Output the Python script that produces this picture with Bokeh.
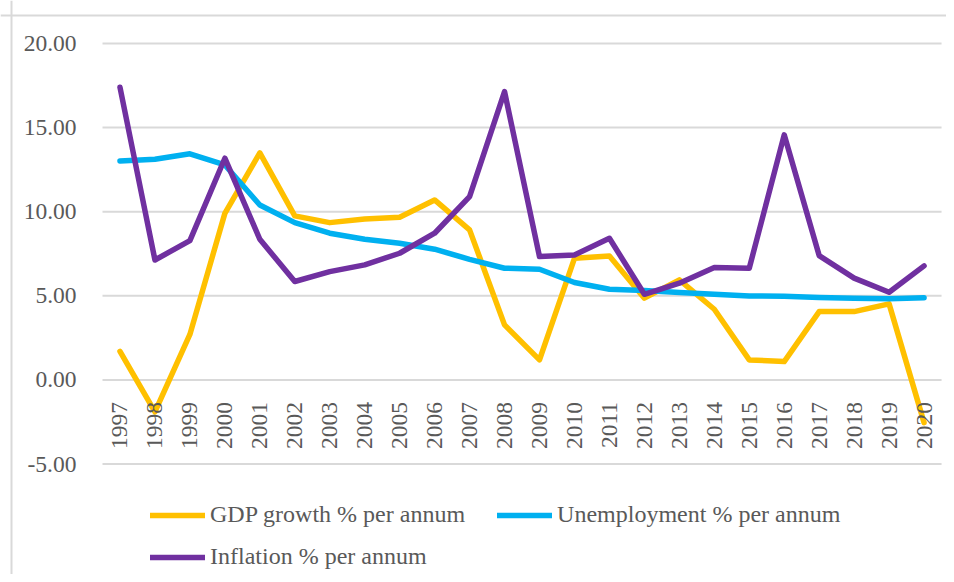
from bokeh.plotting import figure
from bokeh.models import (Range1d, FixedTicker, NumeralTickFormatter, Span,
                          Legend, LegendItem)
from bokeh.embed import file_html
from bokeh.resources import INLINE
import math

years = list(range(1997, 2021))
gdp = [1.7, -1.9, 2.7, 9.9, 13.5, 9.75, 9.35, 9.57, 9.67, 10.7, 8.92, 3.27,
       1.19, 7.23, 7.37, 4.86, 5.95, 4.2, 1.19, 1.09, 4.06, 4.06, 4.52, -2.54]
unemployment = [13.02, 13.12, 13.44, 12.78, 10.4, 9.35, 8.72, 8.36, 8.12, 7.77, 7.17, 6.64,
                6.58, 5.79, 5.39, 5.31, 5.19, 5.09, 4.99, 4.97, 4.9, 4.86, 4.82, 4.89]
inflation = [17.4, 7.13, 8.28, 13.18, 8.36, 5.85, 6.44, 6.84, 7.53, 8.72, 10.9, 17.14,
             7.33, 7.43, 8.42, 5.09, 5.75, 6.68, 6.64, 14.57, 7.39, 6.05, 5.21, 6.78]
y_ticks = [-5, 0, 5, 10, 15, 20]
labels = ["GDP growth % per annum", "Unemployment % per annum", "Inflation % per annum"]
colors = ["#FFC000", "#00B0F0", "#7030A0"]

FONT = "Liberation Serif"
TXT = "#595959"
GRID = "#d9d9d9"

W, H = 946, 574
PX_YEAR = 34.96          # pixels per year
PX_UNIT = 16.82          # pixels per y unit
# plot area edges (category band edges)
x_left = min(years) - 0.5
x_right = max(years) + 0.5
# canvas margins around the plot area (pixels)
M_LEFT, M_TOP = 102, 43
x_start = x_left - M_LEFT / PX_YEAR
x_end = x_start + W / PX_YEAR
y_end = max(y_ticks) + M_TOP / PX_UNIT
y_start = y_end - H / PX_UNIT

p = figure(width=W, height=H, x_range=Range1d(x_start, x_end), y_range=Range1d(y_start, y_end),
           output_backend="svg", toolbar_location=None,
           min_border=0, min_border_left=0, min_border_right=0,
           min_border_top=0, min_border_bottom=0)
p.outline_line_color = None
p.background_fill_color = "white"
p.border_fill_color = "white"
p.xgrid.visible = False
p.ygrid.visible = False

# outer chart-area border (left and top)
p.add_layout(Span(location=x_start + 11 / PX_YEAR, dimension="height",
                  line_color=GRID, line_width=2))
p.add_layout(Span(location=y_end - 15 / PX_UNIT, dimension="width",
                  line_color=GRID, line_width=2))

# horizontal gridlines across the plot area
p.segment(x0=[x_left] * len(y_ticks), x1=[x_right] * len(y_ticks), y0=y_ticks, y1=y_ticks,
          line_color=GRID, line_width=2)

p.yaxis.fixed_location = x_left
p.yaxis.ticker = FixedTicker(ticks=y_ticks, minor_ticks=[])
p.yaxis.formatter = NumeralTickFormatter(format="0.00")
p.yaxis.axis_line_color = None
p.yaxis.major_tick_line_color = None
p.yaxis.minor_tick_line_color = None
p.yaxis.major_label_standoff = 20
p.yaxis.major_label_text_font = FONT
p.yaxis.major_label_text_font_size = "23.5px"
p.yaxis.major_label_text_color = TXT

p.xaxis.fixed_location = 0
p.xaxis.ticker = FixedTicker(ticks=years, minor_ticks=[])
p.xaxis.axis_line_color = None
p.xaxis.major_tick_line_color = None
p.xaxis.minor_tick_line_color = None
p.xaxis.major_label_orientation = math.pi / 2
p.xaxis.major_label_standoff = 16
p.xaxis.major_label_text_font = FONT
p.xaxis.major_label_text_font_size = "23.5px"
p.xaxis.major_label_text_color = TXT

rends = []
for ys, c in zip([gdp, unemployment, inflation], colors):
    r = p.line(x=years, y=ys, line_color=c, line_width=5.5, line_join="round", line_cap="round")
    rends.append(r)

def mk_legend(items, loc, spacing):
    return Legend(items=items, location=loc, orientation="horizontal", spacing=spacing,
                  padding=0, margin=0, glyph_width=55, glyph_height=26, label_height=26,
                  label_standoff=5, label_text_font=FONT, label_text_font_size="24px",
                  label_text_color=TXT, border_line_color=None, background_fill_alpha=0)

leg1 = mk_legend([LegendItem(label=labels[0], renderers=[rends[0]]),
                  LegendItem(label=labels[1], renderers=[rends[1]])], (150, 46), 32)
leg2 = mk_legend([LegendItem(label=labels[2], renderers=[rends[2]])], (150, 4), 0)
p.add_layout(leg1, "center")
p.add_layout(leg2, "center")

open("out.html", "w").write(file_html(p, INLINE))
